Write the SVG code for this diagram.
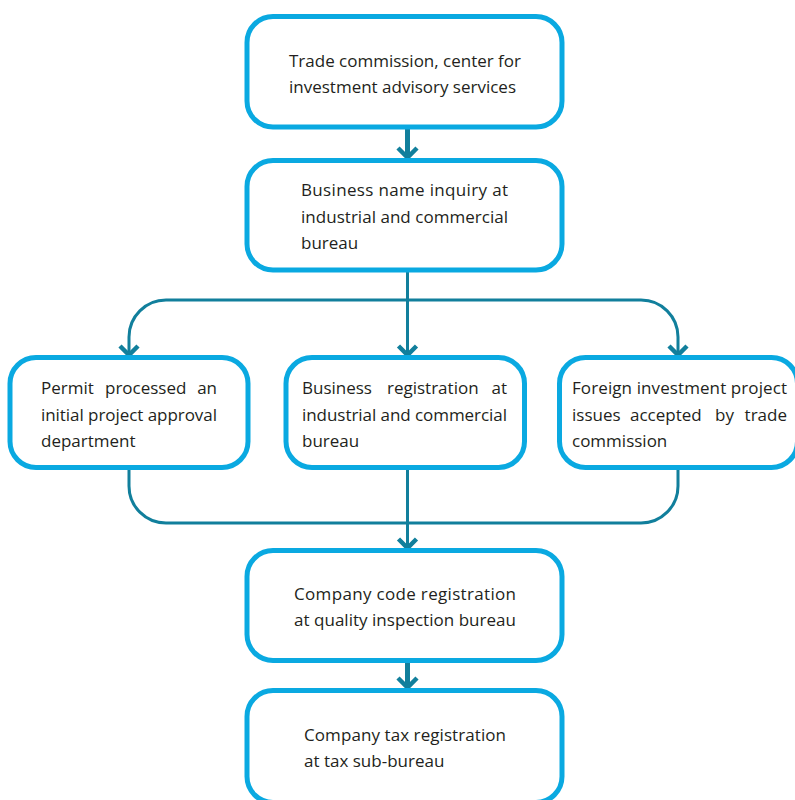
<svg xmlns="http://www.w3.org/2000/svg" width="795" height="800" viewBox="0 0 795 800">
<style>
.box{fill:#fff;stroke:#0AA9E1;stroke-width:5}
.t{font-family:"Open Sans","Noto Sans","Liberation Sans",sans-serif;font-size:17px;font-weight:400;fill:#231F20}
.c{fill:none;stroke:#117F9C;stroke-width:3}
.ct{fill:none;stroke:#117F9C;stroke-width:5}
.ah{fill:none;stroke:#117F9C;stroke-width:4.5;stroke-linecap:butt;stroke-linejoin:miter}
</style>
<rect width="795" height="800" fill="#fff"/>
<g id="connectors">
<line class="ct" x1="407.5" y1="129" x2="407.5" y2="157"/>
<polyline class="ah" points="398,148 407.5,157.5 417,148"/>
<path class="c" d="M407.5 272 V354"/>
<path class="c" d="M407.5 300 H166 A37 37 0 0 0 129 337 V354"/>
<path class="c" d="M407.5 300 H641 A37 37 0 0 1 678 337 V354"/>
<polyline class="ah" points="120,346 129,355 138,346"/>
<polyline class="ah" points="398.5,346 407.5,355 416.5,346"/>
<polyline class="ah" points="669,346 678,355 687,346"/>
<path class="c" d="M129 470 V486 A37 37 0 0 0 166 523 H641 A37 37 0 0 0 678 486 V470"/>
<path class="c" d="M407.5 470 V547"/>
<polyline class="ah" points="398.5,539 407.5,548 416.5,539"/>
<line class="ct" x1="407.5" y1="663" x2="407.5" y2="687"/>
<polyline class="ah" points="398,678 407.5,687.5 417,678"/>
</g>
<g id="n1">
<rect class="box" x="247" y="16.5" width="315" height="110.5" rx="26"/>
<text class="t" x="289" y="67" textLength="232" lengthAdjust="spacing">Trade commission, center for</text>
<text class="t" x="289" y="93" textLength="227" lengthAdjust="spacing">investment advisory services</text>
</g>
<g id="n2">
<rect class="box" x="247" y="160.5" width="315" height="109.5" rx="26"/>
<text class="t" x="301" y="196" textLength="207" lengthAdjust="spacing">Business name inquiry at</text>
<text class="t" x="301" y="223" textLength="207" lengthAdjust="spacing">industrial and commercial</text>
<text class="t" x="301" y="249">bureau</text>
</g>
<g id="n3">
<rect class="box" x="10" y="357.5" width="238" height="110" rx="26"/>
<text class="t" x="41" y="394">Permit</text>
<text class="t" x="105" y="394">processed</text>
<text class="t" x="217" y="394" text-anchor="end">an</text>
<text class="t" x="41" y="421" textLength="176" lengthAdjust="spacing">initial project approval</text>
<text class="t" x="41" y="447">department</text>
</g>
<g id="n4">
<rect class="box" x="286" y="357.5" width="238.5" height="110" rx="26"/>
<text class="t" x="302" y="394">Business</text>
<text class="t" x="387" y="394">registration</text>
<text class="t" x="507" y="394" text-anchor="end">at</text>
<text class="t" x="302" y="421" textLength="205" lengthAdjust="spacing">industrial and commercial</text>
<text class="t" x="302" y="447">bureau</text>
</g>
<g id="n5">
<rect class="box" x="559.5" y="357.5" width="238" height="110" rx="26"/>
<text class="t" x="572" y="394" textLength="215" lengthAdjust="spacing">Foreign investment project</text>
<text class="t" x="572" y="421">issues</text>
<text class="t" x="630" y="421">accepted</text>
<text class="t" x="715" y="421">by</text>
<text class="t" x="787" y="421" text-anchor="end">trade</text>
<text class="t" x="572" y="447">commission</text>
</g>
<g id="n6">
<rect class="box" x="247" y="550.5" width="315" height="110" rx="26"/>
<text class="t" x="294" y="600" textLength="222" lengthAdjust="spacing">Company code registration</text>
<text class="t" x="294" y="626" textLength="222" lengthAdjust="spacing">at quality inspection bureau</text>
</g>
<g id="n7">
<rect class="box" x="247" y="690.5" width="315" height="112" rx="26"/>
<text class="t" x="304" y="741" textLength="202" lengthAdjust="spacing">Company tax registration</text>
<text class="t" x="304" y="767">at tax sub-bureau</text>
</g>
</svg>
